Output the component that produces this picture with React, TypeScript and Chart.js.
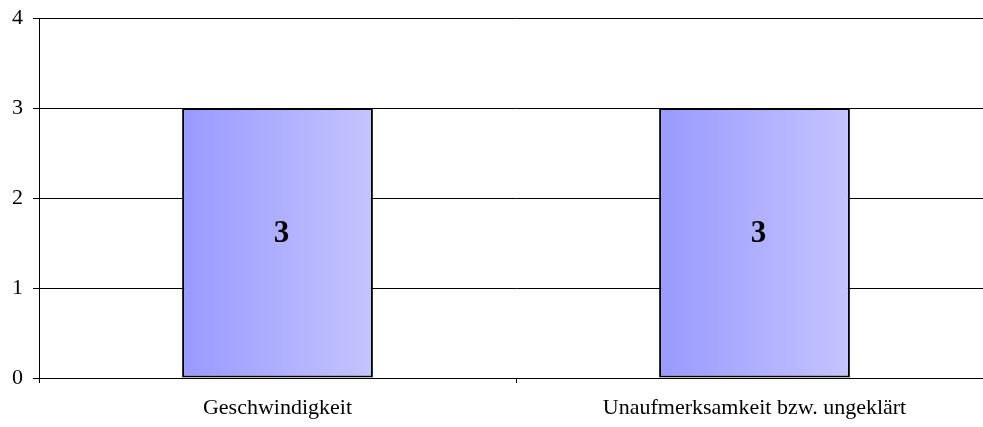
import React, { useEffect, useRef } from "react";
import { Chart, registerables } from "chart.js";

Chart.register(...registerables);

const categories = ["Geschwindigkeit", "Unaufmerksamkeit bzw. ungeklärt"];
const values = [3, 3];
const yTicks = [0, 1, 2, 3, 4];

const FONT = "'Liberation Serif', 'Times New Roman', serif";
const BAR_PCT = 0.4;

const labelPlugin = {
  id: "barLabels",
  afterDatasetsDraw(chart: any) {
    const ctx = chart.ctx;
    const meta = chart.getDatasetMeta(0);
    ctx.save();
    ctx.font = `bold 31px ${FONT}`;
    ctx.fillStyle = "#000";
    ctx.textAlign = "center";
    ctx.textBaseline = "middle";
    meta.data.forEach((el: any, i: number) => {
      const y = (el.y + el.base) / 2 - 9;
      ctx.fillText(String(values[i]), el.x + 4, y);
    });
    ctx.restore();
  },
};

export default function App() {
  const ref = useRef<HTMLCanvasElement>(null);
  useEffect(() => {
    if (!ref.current) return;
    const chart = new Chart(ref.current, {
      type: "bar",
      data: {
        labels: categories,
        datasets: [
          {
            data: values,
            backgroundColor: (c: any) => {
              const ch = c.chart;
              const xs = ch.scales?.x;
              if (!xs || !ch.chartArea) return "#a8a8ff";
              const center = xs.getPixelForValue(c.dataIndex);
              const w = ((ch.chartArea.right - ch.chartArea.left) / categories.length) * BAR_PCT;
              const g = ch.ctx.createLinearGradient(center - w / 2, 0, center + w / 2, 0);
              g.addColorStop(0, "#9999ff");
              g.addColorStop(1, "#c4c4ff");
              return g;
            },
            borderColor: "#000",
            borderWidth: 2,
            borderSkipped: false,
            categoryPercentage: 1,
            barPercentage: BAR_PCT,
          },
        ],
      },
      options: {
        animation: false,
        responsive: false,
        layout: { padding: { top: 18, right: 7, left: 0, bottom: 0 } },
        plugins: { legend: { display: false }, tooltip: { enabled: false } },
        scales: {
          x: {
            grid: { drawOnChartArea: false, tickLength: 5, color: "#000", offset: true },
            border: { color: "#000", width: 1 },
            ticks: { color: "#000", font: { family: FONT, size: 22 }, padding: 12, maxRotation: 0 },
            afterFit: (s: any) => { s.height = 49; s.paddingLeft = 0; s.paddingRight = 0; },
          },
          y: {
            min: 0,
            max: 4,
            afterBuildTicks: (s: any) => { s.ticks = yTicks.map((v) => ({ value: v })); },
            grid: { color: "#000", tickLength: 6, lineWidth: 1 },
            border: { color: "#000", width: 1 },
            ticks: { color: "#000", font: { family: FONT, size: 22 }, padding: 10 },
            afterFit: (s: any) => { s.width = 39; s.paddingTop = 0; s.paddingBottom = 0; },
          },
        },
      },
      plugins: [labelPlugin],
    });
    return () => chart.destroy();
  }, []);
  return (
    <div style={{ position: "fixed", left: 0, top: 0, width: 1000, height: 427, background: "#fff" }}>
      <canvas ref={ref} width={1000} height={427} style={{ display: "block" }} />
    </div>
  );
}
